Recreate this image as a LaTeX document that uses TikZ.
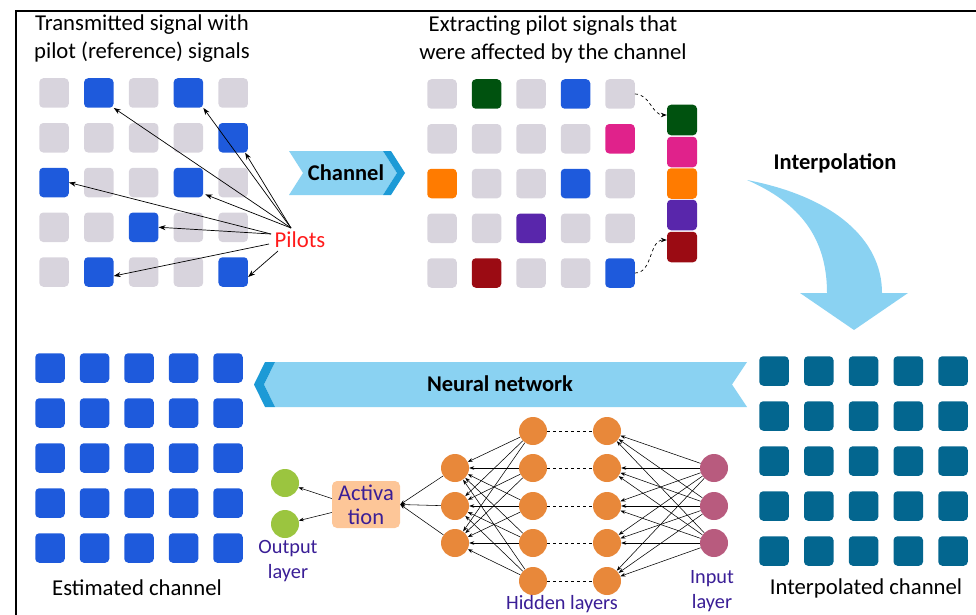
\documentclass[tikz,border=0pt]{standalone}
\usepackage{fontspec}
\setmainfont{Carlito}
\usetikzlibrary{arrows.meta}
\definecolor{gry}{HTML}{D8D4DD}
\definecolor{pblue}{HTML}{1E5ADC}
\definecolor{dgreen}{HTML}{00520F}
\definecolor{magen}{HTML}{E0228B}
\definecolor{orng}{HTML}{FF7B00}
\definecolor{purp}{HTML}{5926AB}
\definecolor{dred}{HTML}{9B0B13}
\definecolor{teal}{HTML}{03668F}
\definecolor{lblue}{HTML}{8AD2F2}
\definecolor{band}{HTML}{1C9AD6}
\definecolor{nnor}{HTML}{E8883A}
\definecolor{nngr}{HTML}{9BC53F}
\definecolor{nnin}{HTML}{B85B7E}
\definecolor{peach}{HTML}{FDC698}
\definecolor{indig}{HTML}{3A1E96}
\definecolor{pred}{HTML}{FF1A1A}
\tikzset{
  sq/.style={minimum size=29.5pt, inner sep=0pt, rounded corners=4pt, draw=none},
  stk/.style={minimum width=30pt, minimum height=30.5pt, inner sep=0pt, rounded corners=4pt, draw=none},
  neuron/.style={circle, minimum size=28pt, inner sep=0pt, draw=none},
  bigtxt/.style={font=\fontsize{22.7}{28}\selectfont, inner sep=1pt},
  boldtxt/.style={font=\fontsize{22.5}{26}\selectfont\bfseries, inner sep=1pt},
  nntxt/.style={font=\fontsize{20.3}{25.5}\selectfont, text=indig, align=center, inner sep=1pt},
  parrow/.style={-{Stealth[length=7pt,width=5pt]}, line width=0.7pt},
  nnarrow/.style={-{Stealth[length=5pt,width=3.6pt]}, line width=0.55pt},
  dasharrow/.style={dashed, -{Stealth[length=6pt,width=4.5pt]}, line width=0.7pt},
}
\begin{document}
\begin{tikzpicture}[x=1pt,y=-1pt]
\useasboundingbox (0,0) rectangle (976,615);
% frame
\draw[line width=1.3pt] (16,615) -- (16,11) -- (976,11);

% ---------- transmitted grid ----------
\node[bigtxt, align=center] (ttl1) at (142,39) {Transmitted signal with\\pilot (reference) signals};
\foreach \cc [count=\c] in {gry,pblue,gry,pblue,gry} \node[sq,fill=\cc] (t1\c) at ({54+44.8*(\c-1)},93) {};
\foreach \cc [count=\c] in {gry,gry,gry,gry,pblue} \node[sq,fill=\cc] (t2\c) at ({54+44.8*(\c-1)},137.75) {};
\foreach \cc [count=\c] in {pblue,gry,gry,pblue,gry} \node[sq,fill=\cc] (t3\c) at ({54+44.8*(\c-1)},182.5) {};
\foreach \cc [count=\c] in {gry,gry,pblue,gry,gry} \node[sq,fill=\cc] (t4\c) at ({54+44.8*(\c-1)},227.25) {};
\foreach \cc [count=\c] in {gry,pblue,gry,gry,pblue} \node[sq,fill=\cc] (t5\c) at ({54+44.8*(\c-1)},272) {};

\node[bigtxt, text=pred] (pilots) at (300,240) {Pilots};
\coordinate (pa) at (291,228);
\coordinate (pb) at (271,234);
\coordinate (pc) at (269,244);
\coordinate (pd) at (278,251);
\draw[parrow] (pa) -- (t12.south east);
\draw[parrow] (pa) -- (t14.south east);
\draw[parrow] (pa) -- ([xshift=-3pt]t25.south east);
\draw[parrow] (pa) -- ([xshift=2pt,yshift=3pt]t34.south east);
\draw[parrow] (pb) -- (t31.east);
\draw[parrow] (pb) -- (t43.east);
\draw[parrow] (pc) -- ([yshift=-4pt]t52.east);
\draw[parrow] (pd) -- ([yshift=-5pt]t55.east);

% ---------- channel chevron ----------
\fill[lblue] (289,151) -- (383,151) -- (397,173) -- (383,195) -- (289,195) -- (303,173) -- cycle;
\fill[band] (383,151) -- (391,151) -- (405,173) -- (391,195) -- (383,195) -- (397,173) -- cycle;
\node[boldtxt] (chan) at (346,173) {Channel};

% ---------- extracted grid ----------
\node[bigtxt, align=center] (ttl2) at (553,39) {Extracting pilot signals that\\were affected by the channel};
\foreach \cc [count=\c] in {gry,dgreen,gry,pblue,gry} \node[sq,fill=\cc] (e1\c) at ({442+44.5*(\c-1)},94) {};
\foreach \cc [count=\c] in {gry,gry,gry,gry,magen} \node[sq,fill=\cc] (e2\c) at ({442+44.5*(\c-1)},138.75) {};
\foreach \cc [count=\c] in {orng,gry,gry,pblue,gry} \node[sq,fill=\cc] (e3\c) at ({442+44.5*(\c-1)},183.5) {};
\foreach \cc [count=\c] in {gry,gry,purp,gry,gry} \node[sq,fill=\cc] (e4\c) at ({442+44.5*(\c-1)},228.25) {};
\foreach \cc [count=\c] in {gry,dred,gry,gry,pblue} \node[sq,fill=\cc] (e5\c) at ({442+44.5*(\c-1)},273) {};

\foreach \cc/\yy [count=\k] in {dgreen/120,magen/152,orng/183.5,purp/215,dred/247}
  \node[stk,fill=\cc] (s\k) at (682,\yy) {};
\draw[dasharrow] (e15.east) to[out=0,in=180] ([yshift=5pt]s1.west);
\draw[dasharrow] (e55.east) to[out=0,in=180] ([yshift=7pt]s5.west);

% ---------- interpolation arrow ----------
\node[boldtxt] (interp) at (835,163) {Interpolation};
\fill[lblue] (747,180) .. controls (835,197) and (882,240) .. (882,293)
  -- (908,293) -- (854,330) -- (800,293) -- (827,293)
  .. controls (827,238) and (800,203) .. (747,180) -- cycle;

% ---------- interpolated grid ----------
\foreach \r in {1,...,5}
  \foreach \c in {1,...,5}
    \node[sq,fill=teal] (i\r\c) at ({774+44.75*(\c-1)},{371+45*(\r-1)}) {};
\node[bigtxt] (interlbl) at (866,588) {Interpolated channel};

% ---------- estimated grid ----------
\foreach \r in {1,...,5}
  \foreach \c in {1,...,5}
    \node[sq,fill=pblue] (o\r\c) at ({50+44.5*(\c-1)},{368+45*(\r-1)}) {};
\node[bigtxt] (estlbl) at (137,588) {Estimated channel};

% ---------- neural network banner ----------
\fill[lblue] (275,362) -- (747,362) -- (732,384.5) -- (747,407) -- (275,407) -- (264,384.5) -- cycle;
\fill[band] (265,362) -- (275,362) -- (264,384.5) -- (275,407) -- (265,407) -- (254,384.5) -- cycle;
\node[boldtxt] (nnlbl) at (500,384) {Neural network};

% ---------- neural network ----------
\node[neuron,fill=nngr] (out1) at (285,483) {};
\node[neuron,fill=nngr] (out2) at (285,524) {};
\node[fill=peach, rounded corners=5pt, minimum width=68pt, minimum height=47pt, inner sep=0pt,
      align=center, text=indig, font=\fontsize{22.5}{24}\selectfont] (act) at (366,504.5) {Activa\\tion};
\draw[nnarrow] ([yshift=6pt]act.west) -- (out1);
\draw[nnarrow] ([yshift=-8pt]act.west) -- (out2);

\foreach \n/\yy in {a/468,b/506,c/543} \node[neuron,fill=nnor] (ha\n) at (455,\yy) {};
\foreach \n/\yy in {a/431,b/468,c/506,d/543,e/581} \node[neuron,fill=nnor] (hb\n) at (533,\yy) {};
\foreach \n/\yy in {a/431,b/468,c/506,d/543,e/581} \node[neuron,fill=nnor] (hc\n) at (607,\yy) {};
\foreach \n/\yy in {a/468,b/506,c/543} \node[neuron,fill=nnin] (in\n) at (714,\yy) {};

\foreach \n in {a,b,c,d,e} \draw[dashed, line width=0.6pt] (hb\n) -- (hc\n);
\foreach \i in {a,b,c} \foreach \j in {a,b,c,d,e} \draw[nnarrow] (in\i) -- (hc\j);
\foreach \j in {a,b,c,d,e} \foreach \k in {a,b,c} \draw[nnarrow] (hb\j) -- (ha\k);
\foreach \k in {a,b,c} \draw[nnarrow] (ha\k) -- (act.east);

\node[nntxt] (outlbl) at (288,561) {Output\\layer};
\node[nntxt] (hidlbl) at (562,604) {Hidden layers};
\node[nntxt] (inlbl) at (712,591) {Input\\layer};
\end{tikzpicture}
\end{document}
